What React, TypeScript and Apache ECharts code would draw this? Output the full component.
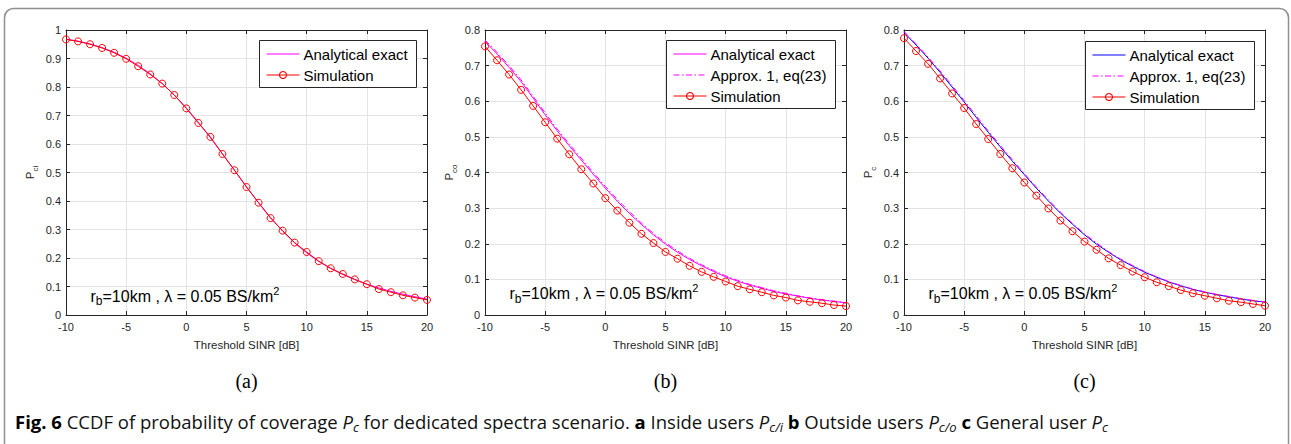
import React, { useEffect, useRef } from "react";
import * as echarts from "echarts";

// ---------- data ----------
const sinrDb = [-10, -9, -8, -7, -6, -5, -4, -3, -2, -1, 0, 1, 2, 3, 4, 5, 6, 7, 8, 9, 10, 11, 12, 13, 14, 15, 16, 17, 18, 19, 20];

// (a) inside users
const exactA = [0.968, 0.961, 0.951, 0.938, 0.922, 0.901, 0.876, 0.846, 0.812, 0.772, 0.726, 0.676, 0.622, 0.566, 0.508, 0.450, 0.394, 0.342, 0.294, 0.253, 0.218, 0.188, 0.163, 0.142, 0.124, 0.108, 0.095, 0.083, 0.073, 0.064, 0.056];
const simA = [0.967, 0.960, 0.950, 0.937, 0.920, 0.899, 0.873, 0.844, 0.812, 0.772, 0.725, 0.674, 0.625, 0.565, 0.508, 0.449, 0.394, 0.340, 0.296, 0.254, 0.221, 0.189, 0.164, 0.144, 0.125, 0.108, 0.091, 0.080, 0.069, 0.061, 0.053];

// (b) outside users
const exactB = [0.768, 0.733, 0.695, 0.655, 0.609, 0.562, 0.517, 0.475, 0.435, 0.395, 0.356, 0.319, 0.285, 0.254, 0.225, 0.199, 0.176, 0.156, 0.138, 0.122, 0.107, 0.095, 0.084, 0.075, 0.066, 0.059, 0.053, 0.047, 0.042, 0.038, 0.034];
const approxB = [0.772, 0.737, 0.700, 0.660, 0.614, 0.567, 0.522, 0.480, 0.440, 0.400, 0.361, 0.324, 0.290, 0.258, 0.229, 0.203, 0.180, 0.159, 0.141, 0.125, 0.110, 0.097, 0.086, 0.077, 0.068, 0.061, 0.054, 0.048, 0.043, 0.039, 0.035];
const simB = [0.754, 0.715, 0.675, 0.632, 0.587, 0.541, 0.495, 0.451, 0.409, 0.369, 0.328, 0.293, 0.259, 0.228, 0.202, 0.177, 0.158, 0.138, 0.121, 0.107, 0.094, 0.081, 0.072, 0.064, 0.055, 0.049, 0.041, 0.037, 0.033, 0.028, 0.025];

// (c) general user
const exactC = [0.793, 0.758, 0.721, 0.681, 0.640, 0.598, 0.555, 0.513, 0.472, 0.432, 0.394, 0.356, 0.320, 0.286, 0.255, 0.225, 0.199, 0.176, 0.155, 0.137, 0.120, 0.106, 0.093, 0.082, 0.072, 0.064, 0.057, 0.051, 0.045, 0.040, 0.036];
const approxC = [0.796, 0.761, 0.724, 0.685, 0.644, 0.602, 0.559, 0.517, 0.476, 0.436, 0.397, 0.359, 0.323, 0.289, 0.257, 0.228, 0.202, 0.178, 0.157, 0.139, 0.122, 0.107, 0.094, 0.083, 0.073, 0.065, 0.058, 0.052, 0.046, 0.041, 0.037];
const simC = [0.777, 0.741, 0.705, 0.664, 0.622, 0.581, 0.536, 0.494, 0.452, 0.412, 0.372, 0.335, 0.299, 0.265, 0.235, 0.206, 0.183, 0.159, 0.140, 0.122, 0.106, 0.092, 0.081, 0.070, 0.061, 0.054, 0.047, 0.040, 0.036, 0.031, 0.026];

const xMin = -10;
const xMax = 20;
const xStep = 5;
const yMaxA = 1;
const yMaxBC = 0.8;
const yStep = 0.1;

const xAxisTitle = "Threshold SINR [dB]";
const yNameSubs = ["ci", "co", "c"];
const panelLabels = ["(a)", "(b)", "(c)"];
const legendNames = {
  exact: "Analytical exact",
  approx: "Approx. 1, eq(23)",
  sim: "Simulation",
};

// ---------- styling / layout ----------
const FONT = "'Liberation Sans', Arial, Helvetica, sans-serif";
const AX = "#262626";
const GRIDC = "#e3e3e3";
const RED = "#ff0000";
const MAGENTA = "#ff00ff";
const BLUE = "#0000ff";
const DASHDOT = [6, 2.5, 1.5, 2.5];

type SeriesDef = { key: string; label: string; values: number[]; color: string; dash: any; marker: boolean };
type Panel = {
  id: string;
  left: number;
  yMax: number;
  series: SeriesDef[];
  legendBox: [number, number, number, number]; // x, y, w, h
  annX: number;
  annY: number;
};

const panels: Panel[] = [
  {
    id: "a",
    left: 66,
    yMax: yMaxA,
    series: [
      { key: "exact", label: legendNames.exact, values: exactA, color: MAGENTA, dash: "solid", marker: false },
      { key: "sim", label: legendNames.sim, values: simA, color: RED, dash: "solid", marker: true },
    ],
    legendBox: [259.5, 40.5, 157, 47],
    annX: 90.5,
    annY: 296,
  },
  {
    id: "b",
    left: 485,
    yMax: yMaxBC,
    series: [
      { key: "exact", label: legendNames.exact, values: exactB, color: MAGENTA, dash: "solid", marker: false },
      { key: "approx", label: legendNames.approx, values: approxB, color: MAGENTA, dash: DASHDOT, marker: false },
      { key: "sim", label: legendNames.sim, values: simB, color: RED, dash: "solid", marker: true },
    ],
    legendBox: [666.5, 40.5, 169, 68],
    annX: 509.5,
    annY: 293.5,
  },
  {
    id: "c",
    left: 904,
    yMax: yMaxBC,
    series: [
      { key: "exact", label: legendNames.exact, values: exactC, color: BLUE, dash: "solid", marker: false },
      { key: "approx", label: legendNames.approx, values: approxC, color: MAGENTA, dash: DASHDOT, marker: false },
      { key: "sim", label: legendNames.sim, values: simC, color: RED, dash: "solid", marker: true },
    ],
    legendBox: [1085.5, 41.5, 169, 68],
    annX: 928.5,
    annY: 293.5,
  },
];

const GRID_TOP = 30;
const GRID_W = 361;
const GRID_H = 285;
const LEG_Z = 50;

function buildOption() {
  const grid: any[] = [];
  const xAxis: any[] = [];
  const yAxis: any[] = [];
  const series: any[] = [];
  const graphic: any[] = [];

  const tickStyle = { color: AX, width: 1 };

  panels.forEach((p) => {
    grid.push({ left: p.left, top: GRID_TOP, width: GRID_W, height: GRID_H, containLabel: false });
  });
  // bottom / left axes (with labels)
  panels.forEach((p, i) => {
    xAxis.push({
      type: "value",
      gridIndex: i,
      position: "bottom",
      min: xMin,
      max: xMax,
      interval: xStep,
      name: xAxisTitle,
      nameLocation: "middle",
      nameGap: 24,
      nameTextStyle: { fontFamily: FONT, fontSize: 11.5, color: AX },
      axisLine: { show: true, onZero: false, lineStyle: tickStyle },
      axisTick: { show: true, inside: true, length: 4, lineStyle: tickStyle },
      axisLabel: { color: AX, fontFamily: FONT, fontSize: 11, margin: 6 },
      splitLine: { show: true, lineStyle: { color: GRIDC, width: 1 } },
    });
    yAxis.push({
      type: "value",
      gridIndex: i,
      position: "left",
      min: 0,
      max: p.yMax,
      interval: yStep,
      axisLine: { show: true, onZero: false, lineStyle: tickStyle },
      axisTick: { show: true, inside: true, length: 4, lineStyle: tickStyle },
      axisLabel: { color: AX, fontFamily: FONT, fontSize: 11, margin: 5 },
      splitLine: { show: true, lineStyle: { color: GRIDC, width: 1 } },
    });
  });
  // top / right axes (box with ticks only)
  panels.forEach((p, i) => {
    xAxis.push({
      type: "value",
      gridIndex: i,
      position: "top",
      min: xMin,
      max: xMax,
      interval: xStep,
      axisLine: { show: true, onZero: false, lineStyle: tickStyle },
      axisTick: { show: true, inside: true, length: 4, lineStyle: tickStyle },
      axisLabel: { show: false },
      splitLine: { show: false },
    });
    yAxis.push({
      type: "value",
      gridIndex: i,
      position: "right",
      min: 0,
      max: p.yMax,
      interval: yStep,
      axisLine: { show: true, onZero: false, lineStyle: tickStyle },
      axisTick: { show: true, inside: true, length: 4, lineStyle: tickStyle },
      axisLabel: { show: false },
      splitLine: { show: false },
    });
  });

  panels.forEach((p, i) => {
    p.series.forEach((s) => {
      series.push({
        type: "line",
        name: p.id + "#" + s.label,
        xAxisIndex: i,
        yAxisIndex: i,
        data: sinrDb.map((x, k) => [x, s.values[k]]),
        symbol: s.marker ? "circle" : "none",
        symbolSize: 7,
        showSymbol: s.marker,
        lineStyle: { color: s.color, width: 1, type: s.dash },
        itemStyle: s.marker
          ? { color: "rgba(0,0,0,0)", borderColor: s.color, borderWidth: 1 }
          : { color: s.color },
        emphasis: { disabled: true },
        z: 3,
      });
    });

    // legend box drawn as graphic elements
    const [bx, by, bw, bh] = p.legendBox;
    graphic.push({
      type: "rect",
      z: LEG_Z,
      shape: { x: bx, y: by, width: bw, height: bh },
      style: { fill: "#ffffff", stroke: AX, lineWidth: 1 },
    });
    p.series.forEach((s, k) => {
      const cy = by + 13.5 + k * 21;
      const lx0 = bx + 7;
      const lx1 = bx + 40;
      graphic.push({
        type: "line",
        z: LEG_Z + 1,
        shape: { x1: lx0, y1: cy, x2: lx1, y2: cy },
        style: { stroke: s.color, lineWidth: 1.2, lineDash: s.dash === "solid" ? null : s.dash },
      });
      if (s.marker) {
        graphic.push({
          type: "circle",
          z: LEG_Z + 2,
          shape: { cx: (lx0 + lx1) / 2, cy, r: 3.5 },
          style: { fill: "none", stroke: s.color, lineWidth: 1.1 },
        });
      }
      graphic.push({
        type: "text",
        z: LEG_Z + 2,
        x: bx + 44,
        y: cy,
        style: {
          text: s.label,
          fontFamily: FONT,
          fontSize: 15,
          fill: "#000",
          align: "left",
          verticalAlign: "middle",
        },
      });
    });

    // annotation r_b=10km , λ = 0.05 BS/km^2
    graphic.push({
      type: "text",
      x: p.annX,
      y: p.annY,
      z: 20,
      style: {
        text: "{n|r}{s|b}{n|=10km , λ = 0.05 BS/km}{u|2}",
        align: "left",
        verticalAlign: "middle",
        rich: {
          n: { fontFamily: FONT, fontSize: 16, lineHeight: 22, verticalAlign: "middle", fill: "#000" },
          s: { fontFamily: FONT, fontSize: 12, lineHeight: 6, verticalAlign: "bottom", fill: "#000" },
          u: { fontFamily: FONT, fontSize: 11, lineHeight: 11, verticalAlign: "top", fill: "#000" },
        },
      },
    });

    // y axis name P_sub (rotated)
    graphic.push({
      type: "text",
      x: p.left - 36.5,
      y: GRID_TOP + GRID_H / 2,
      rotation: Math.PI / 2,
      style: {
        text: "{p|P}{s|" + yNameSubs[i] + "}",
        align: "center",
        verticalAlign: "middle",
        rich: {
          p: { fontFamily: FONT, fontSize: 11.5, lineHeight: 20, verticalAlign: "middle", fill: AX },
          s: { fontFamily: FONT, fontSize: 8, lineHeight: 6, verticalAlign: "bottom", fill: AX },
        },
      },
    });

    // sub-figure label
    graphic.push({
      type: "text",
      x: p.left + GRID_W / 2,
      y: 381,
      style: {
        text: panelLabels[i],
        align: "center",
        verticalAlign: "middle",
        fontFamily: "'Liberation Serif', 'DejaVu Serif', serif",
        fontSize: 20,
        fill: "#000",
      },
    });
  });

  // outer frame
  graphic.push({
    type: "rect",
    z: -1,
    shape: { x: 4.5, y: 8.5, width: 1284, height: 470, r: 9 },
    style: { fill: "none", stroke: "#8f8f8f", lineWidth: 1.5 },
  });

  // caption
  const CF = "'Open Sans', 'Noto Sans', sans-serif";
  graphic.push({
    type: "text",
    x: 15,
    y: 421,
    style: {
      text:
        "{b|Fig. 6}{n| CCDF of probability of coverage }{i|P}{is|c}{n| for dedicated spectra scenario. }{b|a}{n| Inside users }{i|P}{is|c/i}{n| }{b|b}{n| Outside users }{i|P}{is|c/o}{n| }{b|c}{n| General user }{i|P}{is|c}",
      align: "left",
      verticalAlign: "middle",
      rich: {
        b: { fontFamily: CF, fontSize: 18.5, fontWeight: "bold", lineHeight: 24, verticalAlign: "middle", fill: "#000" },
        n: { fontFamily: CF, fontSize: 18.5, lineHeight: 24, verticalAlign: "middle", fill: "#111" },
        i: { fontFamily: CF, fontSize: 18.5, fontStyle: "italic", lineHeight: 24, verticalAlign: "middle", fill: "#111" },
        is: { fontFamily: CF, fontSize: 13, fontStyle: "italic", lineHeight: 14, verticalAlign: "bottom", fill: "#111" },
      },
    },
  });

  return {
    animation: false,
    backgroundColor: "#ffffff",
    grid,
    xAxis,
    yAxis,
    series,
    graphic,
  };
}

export default function App() {
  const ref = useRef<HTMLDivElement | null>(null);
  useEffect(() => {
    document.body.style.margin = "0";
    if (!ref.current) return;
    const chart = echarts.init(ref.current, null, { renderer: "svg" });
    chart.setOption(buildOption() as any);
    return () => {
      chart.dispose();
    };
  }, []);
  return <div ref={ref} style={{ width: 1291, height: 444 }} />;
}
